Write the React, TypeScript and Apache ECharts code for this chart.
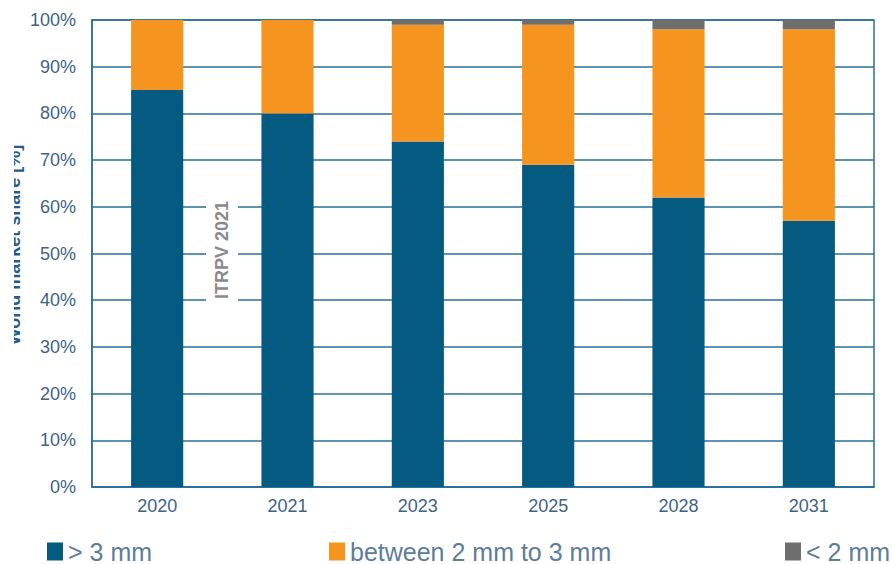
import React, { useEffect, useRef } from "react";
import * as echarts from "echarts";

const categories = ["2020", "2021", "2023", "2025", "2028", "2031"];
const above3mm = [85, 80, 74, 69, 62, 57];
const between2and3mm = [15, 20, 25, 30, 36, 41];
const below2mm = [0, 0, 1, 1, 2, 2];
const seriesNames = ["> 3 mm", "between 2 mm to 3 mm", "< 2 mm"];
const yAxisName = "World market share [%]";
const watermark = "ITRPV 2021";

const DARK = "#045a80";
const ORANGE = "#f5951f";
const GRAY = "#6e6e6e";
const LINE = "#2a6f98";
const LABEL = "#3e6383";
const FONT = "Liberation Sans, Arial, sans-serif";

export default function App() {
  const ref = useRef<HTMLDivElement>(null);
  useEffect(() => {
    if (!ref.current) return;
    const chart = echarts.init(ref.current, undefined, { renderer: "svg" });
    const legendText = { fontSize: 25, color: "#5d7d99", fontFamily: FONT, lineHeight: 25 };
    const legendBase = { top: 539, icon: "rect", itemWidth: 16, itemHeight: 18, padding: 0, textStyle: legendText };
    chart.setOption({
      animation: false,
      backgroundColor: "#ffffff",
      grid: {
        left: 92,
        right: 18,
        top: 20,
        bottom: 77,
        show: true,
        borderColor: LINE,
        borderWidth: 1.5,
      },
      legend: [
        { ...legendBase, data: [seriesNames[0]], left: 47 },
        { ...legendBase, data: [seriesNames[1]], left: 329 },
        { ...legendBase, data: [seriesNames[2]], left: 785 },
      ],
      xAxis: {
        type: "category",
        data: categories,
        axisLine: { show: true, lineStyle: { color: LINE, width: 1.5 } },
        axisTick: { show: false },
        axisLabel: { color: LABEL, fontSize: 18, fontFamily: FONT, margin: 10 },
      },
      yAxis: {
        type: "value",
        min: 0,
        max: 100,
        interval: 10,
        axisLine: { show: true, lineStyle: { color: LINE, width: 1.5 } },
        axisTick: { show: false },
        axisLabel: { color: LABEL, fontSize: 18, fontFamily: FONT, margin: 16, formatter: "{value}%" },
        splitLine: { show: true, lineStyle: { color: LINE, width: 1.5 } },
      },
      series: [
        { name: seriesNames[0], type: "bar", stack: "s", data: above3mm, barWidth: "40%", itemStyle: { color: DARK } },
        { name: seriesNames[1], type: "bar", stack: "s", data: between2and3mm, barWidth: "40%", itemStyle: { color: ORANGE } },
        { name: seriesNames[2], type: "bar", stack: "s", data: below2mm, barWidth: "40%", itemStyle: { color: GRAY } },
      ],
      graphic: [
        {
          type: "text",
          x: 222,
          y: 250,
          rotation: Math.PI / 2,
          z: 100,
          style: {
            text: watermark,
            fontSize: 18,
            fontWeight: "bold",
            fontFamily: FONT,
            fill: "#8a8a8a",
            align: "center",
            verticalAlign: "middle",
            backgroundColor: "#ffffff",
            padding: [7, 8],
          },
        },
        {
          type: "text",
          x: 23,
          y: 245,
          rotation: Math.PI / 2,
          z: 100,
          style: {
            text: yAxisName,
            fontSize: 18,
            fontWeight: "bold",
            fontFamily: FONT,
            fill: "#2a5b86",
            align: "center",
            verticalAlign: "bottom",
          },
        },
        {
          type: "rect",
          z: 101,
          shape: { x: 0, y: 120, width: 14, height: 240 },
          style: { fill: "#ffffff" },
        },
      ],
    });
    return () => chart.dispose();
  }, []);
  return (
    <div
      ref={ref}
      style={{ position: "fixed", left: 0, top: 0, width: 892, height: 564, background: "#fff" }}
    />
  );
}
